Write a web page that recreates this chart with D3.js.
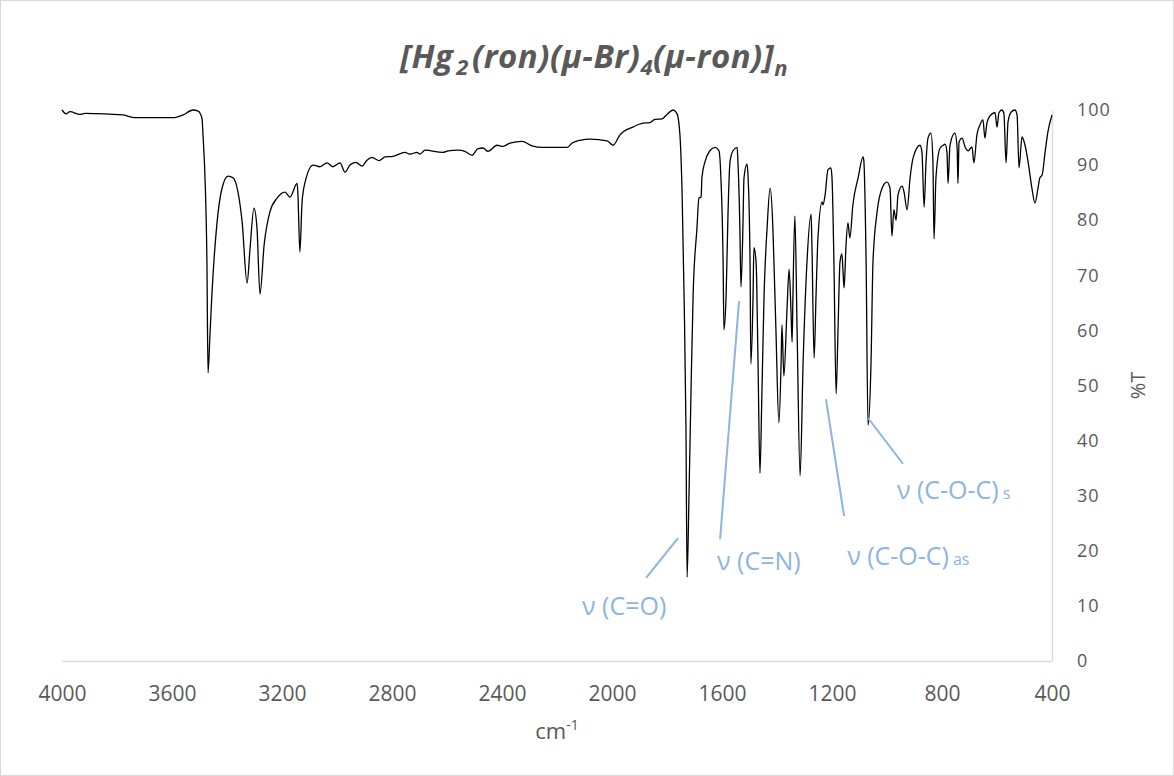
<!DOCTYPE html>
<html>
<head>
<meta charset="utf-8">
<script src="https://cdn.jsdelivr.net/npm/d3@7"></script>
<style>
  html, body { margin: 0; padding: 0; background: #fff; }
  svg { display: block; }
</style>
</head>
<body>
<svg id="chart" width="1174" height="776"></svg>
<script>
// Wavenumber (cm-1) and transmittance (%T)
const wavenumbers = [
  4000,3985,3971,3935,3916,3778,3735,3596,3560,3524,3505,3491,3487,3480,3473,3469,3462,3455,3436,3418,
  3396,3378,3360,3345,3327,3316,3302,3291,3280,3265,3244,3218,3189,3171,3145,3142,3135,3127,3116,3087,
  3062,3036,3015,2989,2971,2953,2931,2909,2891,2873,2847,2825,2796,2753,2735,2709,2698,2680,2615,2596,
  2560,2535,2509,2487,2469,2451,2418,2396,2371,2327,2291,2251,2164,2145,2116,2080,2018,1996,1971,1924,
  1887,1862,1844,1818,1800,1778,1764,1753,1745,1738,1731,1727,1720,1713,1705,1691,1684,1676,1673,1662,
  1644,1625,1611,1604,1596,1593,1585,1578,1571,1560,1545,1542,1535,1531,1524,1520,1509,1505,1498,1495,
  1487,1484,1476,1469,1462,1455,1447,1436,1425,1415,1411,1404,1393,1385,1382,1375,1364,1356,1349,1345,
  1342,1335,1327,1316,1305,1291,1276,1273,1265,1258,1251,1236,1233,1225,1215,1204,1200,1193,1185,1178,
  1171,1164,1160,1156,1149,1142,1135,1124,1105,1087,1084,1076,1069,1058,1051,1036,1018,1000,989,982,
  975,967,960,945,938,927,916,905,880,873,865,858,851,840,833,829,822,807,796,789,
  782,778,771,753,745,742,738,727,716,705,691,684,673,662,651,644,636,618,607,600,
  593,582,575,567,560,549,535,527,520,509,498,487,473,462,451,444,436,425,415,400
];
const transmittance = [
  100.0,99.3,99.7,99.2,99.4,99.1,98.6,98.6,99.1,100.0,99.8,98.5,95.2,87.7,72.4,52.3,59.2,66.4,79.7,85.8,
  88.0,87.7,85.1,79.7,68.6,75.0,82.2,78.6,66.6,75.5,81.5,84.0,85.1,84.2,86.7,84.6,74.2,83.3,86.9,90.0,
  89.7,90.4,89.7,90.4,88.7,90.0,90.5,89.8,90.9,91.4,90.8,91.5,91.6,92.3,92.0,92.3,92.0,92.7,92.3,92.6,
  92.7,92.5,91.8,93.0,93.1,92.5,93.6,93.4,94.0,94.3,93.5,93.2,93.2,94.0,94.5,94.7,94.4,93.6,95.5,96.9,
  97.6,97.7,98.3,98.4,99.2,100.0,99.4,95.5,84.6,66.4,42.3,15.2,30.1,48.3,66.4,78.6,84.0,84.2,87.7,90.6,
  92.6,93.2,92.6,87.7,72.4,60.1,66.4,81.5,90.6,92.6,93.2,90.6,78.6,67.9,78.6,87.7,90.2,87.7,72.4,53.9,
  66.4,75.0,72.4,54.3,34.1,48.3,66.4,78.6,85.8,78.6,72.2,60.3,43.2,54.3,61.0,51.7,63.3,71.1,63.3,57.9,
  66.4,80.8,60.3,33.6,54.3,72.4,81.1,75.5,55.0,66.4,76.8,83.3,82.8,84.6,89.1,89.5,87.7,72.4,48.5,60.3,
  72.4,73.9,70.8,67.7,75.5,79.5,76.8,82.8,87.7,91.5,90.6,72.4,42.8,54.3,72.4,81.5,85.8,86.9,85.8,77.1,
  81.9,80.0,84.6,86.2,85.1,81.9,87.7,91.3,93.6,92.4,82.4,90.6,94.9,95.8,90.6,76.6,87.7,93.1,93.6,93.8,
  92.4,86.7,93.6,95.8,93.1,86.7,94.2,94.9,93.3,92.6,93.3,90.4,95.5,97.3,98.2,94.9,97.8,99.3,99.5,96.9,
  99.5,100.0,99.4,90.4,97.8,99.6,100.0,99.1,89.5,95.1,93.6,90.6,85.8,83.1,85.8,87.7,88.2,92.4,96.0,99.1
];
const xTicks = [4000,3600,3200,2800,2400,2000,1600,1200,800,400];
const yTicks = [0,10,20,30,40,50,60,70,80,90,100];

// Band assignments: label, subscript, leader line (wavenumber, %T) and label anchor
const bandLabels  = ["\u03BD (C=O)", "\u03BD (C=N)", "\u03BD (C-O-C)", "\u03BD (C-O-C)"];
const bandSubs    = ["", "", "as", "s"];
const leaderFromW = [1760, 1538, 1222, 1069];
const leaderFromT = [22.3, 65.3, 47.5, 44.1];
const leaderToW   = [1876, 1607, 1156, 942];
const leaderToT   = [15.1, 22.1, 26.3, 35.8];
const labelW      = [2109, 1618, 1145, 964];
const labelT      = [8.3, 16.5, 17.4, 29.4];

const data = wavenumbers.map((w, i) => ({ w, t: transmittance[i] }));

const svg = d3.select("#chart");
const W = 1174, H = 776;
const plot = { left: 62, right: 1052, top: 110, bottom: 661 };
const textGray = "#595959";
const annoBlue = "#8db4e2";
const font = "'Open Sans', 'Noto Sans', sans-serif";

svg.append("rect").attr("x", 0.5).attr("y", 0.5).attr("width", W - 1).attr("height", H - 1)
  .attr("fill", "#fff").attr("stroke", "#d9d9d9");

const x = d3.scaleLinear().domain([4000, 400]).range([plot.left, plot.right]);
const y = d3.scaleLinear().domain([0, 100]).range([plot.bottom, plot.top]);

// X axis
const xAxis = svg.append("g").attr("transform", `translate(0,${plot.bottom})`)
  .call(d3.axisBottom(x).tickValues(xTicks).tickSize(0).tickPadding(25).tickFormat(d3.format("d")));
xAxis.select(".domain").attr("stroke", "#d9d9d9").attr("stroke-width", 1.3);
xAxis.selectAll("text").attr("font-family", font).attr("font-size", 21).attr("fill", textGray);

// Y axis (right side)
const yAxis = svg.append("g").attr("transform", `translate(${plot.right},0)`)
  .call(d3.axisRight(y).tickValues(yTicks).tickSize(0).tickPadding(25).tickFormat(d3.format("d")));
yAxis.select(".domain").attr("stroke", "#d9d9d9").attr("stroke-width", 1.3);
yAxis.selectAll("text").attr("font-family", font).attr("font-size", 18).attr("fill", textGray)
  .attr("letter-spacing", 1);

// Axis titles
const xt = svg.append("text").attr("x", (plot.left + plot.right) / 2).attr("y", 739)
  .attr("text-anchor", "middle").attr("font-family", font).attr("font-size", 22).attr("fill", textGray);
xt.append("tspan").text("cm");
xt.append("tspan").attr("dy", -9).attr("font-size", 14).text("-1");

svg.append("text").attr("transform", `translate(1145,${(plot.top + plot.bottom) / 2}) rotate(-90)`)
  .attr("text-anchor", "middle").attr("font-family", font).attr("font-size", 20).attr("fill", textGray)
  .text("%T");

// Title
const title = svg.append("text").attr("x", 594).attr("y", 68).attr("text-anchor", "middle")
  .attr("font-family", font).attr("font-size", 33).attr("font-weight", "bold")
  .attr("font-style", "italic").attr("fill", textGray).attr("letter-spacing", 0.5);
title.append("tspan").text("[Hg");
title.append("tspan").attr("dx", 3).attr("dy", 7).attr("font-size", 22).text("2");
title.append("tspan").attr("dx", 3).attr("dy", -7).text("(ron)(\u03BC-Br)");
title.append("tspan").attr("dy", 7).attr("font-size", 22).text("4");
title.append("tspan").attr("dy", -7).text("(\u03BC-ron)]");
title.append("tspan").attr("dy", 8).attr("font-size", 22).text("n");

// Spectrum
const line = d3.line().x(d => x(d.w)).y(d => y(d.t)).curve(d3.curveMonotoneX);
svg.append("path").datum(data).attr("d", line)
  .attr("fill", "none").attr("stroke", "#000").attr("stroke-width", 1.3).attr("stroke-linejoin", "round");

// Annotations
bandLabels.forEach((lab, i) => {
  svg.append("line")
    .attr("x1", x(leaderFromW[i])).attr("y1", y(leaderFromT[i]))
    .attr("x2", x(leaderToW[i])).attr("y2", y(leaderToT[i]))
    .attr("stroke", annoBlue).attr("stroke-width", 2);
  const t = svg.append("text").attr("x", x(labelW[i])).attr("y", y(labelT[i]))
    .attr("font-family", font).attr("font-size", 25).attr("fill", annoBlue);
  t.append("tspan").text(lab);
  if (bandSubs[i]) {
    t.append("tspan").attr("dx", 4).attr("font-size", 16).text(bandSubs[i]);
  }
});
</script>
</body>
</html>
